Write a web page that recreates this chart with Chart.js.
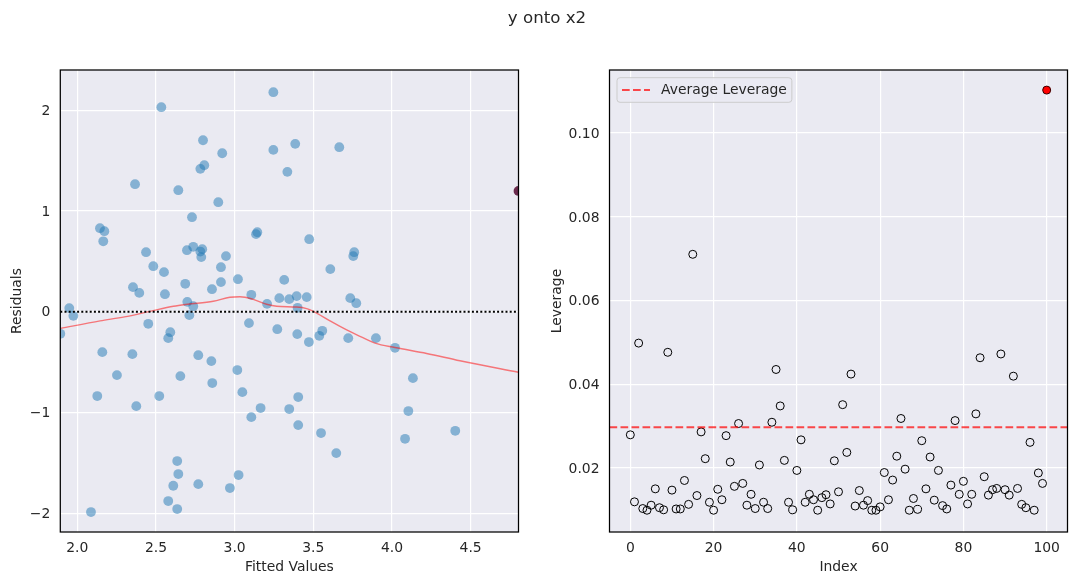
<!DOCTYPE html>
<html><head><meta charset="utf-8">
<script src="https://cdn.jsdelivr.net/npm/chart.js@4.4.1/dist/chart.umd.min.js"></script>
<style>
html,body{margin:0;padding:0;background:#fff;width:1077px;height:585px;overflow:hidden;}
#wrap{position:relative;width:1077px;height:585px;}
#title{position:absolute;left:447px;top:7.5px;width:200px;text-align:center;font-family:"DejaVu Sans",sans-serif;font-size:16.67px;line-height:20px;color:#262626;z-index:2;}
canvas{position:absolute;top:0;}
#c1{left:0;}
#c2{left:540px;}
</style></head><body>
<div id="wrap">
<canvas id="c1" width="540" height="585"></canvas>
<canvas id="c2" width="537" height="585"></canvas>
<div id="title">y onto x2</div>
</div>
<script>
// ---------------- data ----------------
const fitted = [1.949,1.975,2.534,3.246,2.799,2.921,3.246,2.807,2.782,2.367,
  2.642,2.896,2.729,2.144,2.172,2.165,3.136,3.144,2.437,2.697,
  2.737,2.782,2.794,2.788,2.945,2.483,2.913,2.551,2.913,2.686,
  3.021,2.354,2.394,2.557,2.856,3.106,2.699,2.737,3.206,3.385,
  3.665,3.335,3.474,3.760,3.754,3.608,3.315,3.284,3.347,3.394,
  3.458,3.735,3.773,3.400,2.712,3.091,3.271,3.398,3.472,3.538,
  3.557,3.722,3.898,1.892,2.451,2.591,2.578,2.159,2.350,2.769,
  2.852,2.252,2.655,2.858,3.017,3.049,2.127,2.521,2.375,3.165,
  3.106,2.635,2.642,3.025,2.610,2.769,2.970,2.578,2.635,2.087,
  4.019,4.133,3.347,3.404,3.404,3.549,3.646,4.104,4.083,4.402];
const residuals = [0.037,-0.040,2.031,2.180,1.703,1.574,1.607,1.455,1.419,1.267,
  1.207,1.088,0.939,0.830,0.800,0.700,0.771,0.790,0.592,0.612,
  0.645,0.598,0.622,0.543,0.553,0.453,0.443,0.394,0.295,0.278,
  0.324,0.245,0.188,0.175,0.225,0.169,0.099,0.056,0.079,1.667,
  1.634,1.389,0.721,0.592,0.553,0.424,0.317,0.136,0.126,0.156,
  0.146,0.136,0.086,0.040,-0.033,-0.112,-0.172,-0.221,-0.300,-0.238,
  -0.188,-0.261,-0.261,-0.218,-0.119,-0.202,-0.261,-0.400,-0.420,-0.430,
  -0.489,-0.628,-0.638,-0.707,-0.578,-0.797,-0.836,-0.836,-0.936,-0.955,
  -1.045,-1.481,-1.610,-1.620,-1.726,-1.710,-1.749,-1.878,-1.957,-1.987,
  -0.357,-0.658,-0.965,-0.846,-1.124,-1.203,-1.402,-0.985,-1.260,-1.181];
const outlierFitted = [4.804];
const outlierResidual = [1.20];
const lowessFitted = [1.892,2.145,2.30,2.462,2.611,2.70,2.864,2.97,3.034,3.118,3.203,3.267,3.394,3.458,3.50,3.606,3.712,3.80,3.892,4.019,4.22,4.432,4.804];
const lowessResidual = [-0.165,-0.09,-0.05,0.005,0.055,0.075,0.105,0.145,0.150,0.124,0.075,0.055,0.048,0.032,0.005,-0.09,-0.18,-0.245,-0.31,-0.354,-0.413,-0.486,-0.60];
const zeroResidual = 0;

const leverage = [0.0279,0.0119,0.0498,0.0103,0.0099,0.0111,0.0150,0.0105,0.0100,0.0476,
  0.0147,0.0102,0.0102,0.0170,0.0113,0.0710,0.0134,0.0286,0.0222,0.0118,
  0.0099,0.0149,0.0124,0.0277,0.0214,0.0156,0.0306,0.0163,0.0111,0.0137,
  0.0103,0.0207,0.0118,0.0103,0.0309,0.0435,0.0348,0.0218,0.0118,0.0100,
  0.0194,0.0267,0.0118,0.0137,0.0124,0.0099,0.0129,0.0136,0.0114,0.0217,
  0.0143,0.0351,0.0237,0.0424,0.0109,0.0146,0.0111,0.0122,0.0099,0.0099,
  0.0107,0.0189,0.0124,0.0171,0.0228,0.0318,0.0197,0.0099,0.0127,0.0101,
  0.0265,0.0150,0.0226,0.0123,0.0194,0.0110,0.0102,0.0159,0.0313,0.0137,
  0.0168,0.0114,0.0137,0.0329,0.0463,0.0179,0.0135,0.0148,0.0151,0.0472,
  0.0148,0.0135,0.0419,0.0151,0.0113,0.0105,0.0261,0.0099,0.0188,0.0163,
  0.1102];
const highlightIndex = [100];
const averageLeverage = 0.0297;

const fittedTicks = [2.0,2.5,3.0,3.5,4.0,4.5];
const residualTicks = [-2,-1,0,1,2];
const indexTicks = [0,20,40,60,80,100];
const leverageTicks = [0.02,0.04,0.06,0.08,0.10];

const fittedRange = [1.892, 4.804];
const residualRange = [-2.185, 2.40];
const indexRange = [-5, 105];
const leverageRange = [0.0047, 0.1150];

// ---------------- styling ----------------
const FONT = '"DejaVu Sans", sans-serif';
const INK = '#262626';
const AXES_BG = '#eaeaf2';
const TICK_SIZE = 13.9;
const LABEL_SIZE = 13.9;

const framePlugin = {
  id: 'frame',
  beforeDraw(chart) {
    const {ctx, chartArea: a} = chart;
    ctx.save();
    ctx.fillStyle = AXES_BG;
    ctx.fillRect(a.left, a.top, a.right - a.left, a.bottom - a.top);
    ctx.restore();
  },
  afterDraw(chart) {
    const {ctx, chartArea: a} = chart;
    ctx.save();
    ctx.strokeStyle = '#000';
    ctx.lineWidth = 1.25;
    ctx.strokeRect(a.left, a.top, a.right - a.left, a.bottom - a.top);
    ctx.restore();
  }
};

const legendPlugin = {
  id: 'innerLegend',
  afterDatasetsDraw(chart) {
    const ds = chart.data.datasets.find(d => d.inLegend);
    if (!ds) return;
    const {ctx, chartArea: a} = chart;
    ctx.save();
    ctx.font = LABEL_SIZE + 'px ' + FONT;
    const tw = ctx.measureText(ds.label).width;
    const x = a.left + 7.5, y = a.top + 7.7, h = 24.6;
    const w = 5 + 28 + 11 + tw + 5;
    ctx.beginPath();
    ctx.roundRect(x, y, w, h, 3);
    ctx.fillStyle = 'rgba(234,234,242,0.8)';
    ctx.fill();
    ctx.strokeStyle = '#cccccc';
    ctx.lineWidth = 1;
    ctx.stroke();
    ctx.beginPath();
    ctx.setLineDash(ds.borderDash);
    ctx.strokeStyle = ds.borderColor;
    ctx.lineWidth = ds.borderWidth;
    ctx.moveTo(x + 5, y + h / 2);
    ctx.lineTo(x + 33, y + h / 2);
    ctx.stroke();
    ctx.setLineDash([]);
    ctx.fillStyle = INK;
    ctx.textBaseline = 'middle';
    ctx.textAlign = 'left';
    ctx.fillText(ds.label, x + 44, y + h / 2 + 0.5);
    ctx.restore();
  }
};

function axis(range, ticks, fmt, title, fitFn, isX, labelOffset) {
  return {
    type: 'linear',
    min: range[0], max: range[1],
    afterBuildTicks: s => { s.ticks = ticks.map(v => ({value: v})); },
    afterFit: fitFn,
    grid: {color: '#ffffff', lineWidth: 1.2, drawTicks: false},
    border: {display: false},
    ticks: {padding: isX ? 8 : 10, labelOffset: labelOffset || 0, color: INK, font: {family: FONT, size: TICK_SIZE},
            callback: v => fmt(v), autoSkip: false, maxRotation: 0},
    title: {display: true, text: title, color: INK, font: {family: FONT, size: LABEL_SIZE},
            padding: isX ? {top: 0, bottom: 9} : {top: 9, bottom: 0}}
  };
}
const minus = v => (v < 0 ? '\u2212' + Math.abs(v) : String(v));

// ---------------- left chart ----------------
new Chart(document.getElementById('c1'), {
  type: 'scatter',
  data: {
    datasets: [
      {
        label: 'outlier',
        data: outlierFitted.map((f, i) => ({x: f, y: outlierResidual[i]})),
        backgroundColor: '#6b2b4e', borderWidth: 0, pointRadius: 4.9, clip: 0, order: 0
      },
      {
        label: 'zero',
        type: 'line',
        data: [{x: fittedRange[0], y: zeroResidual}, {x: fittedRange[1], y: zeroResidual}],
        borderColor: '#000', borderWidth: 2, borderDash: [2, 2.2], pointRadius: 0, clip: 0, order: 1
      },
      {
        label: 'lowess',
        type: 'line',
        data: lowessFitted.map((f, i) => ({x: f, y: lowessResidual[i]})),
        borderColor: 'rgba(255,0,0,0.5)', borderWidth: 1.4, pointRadius: 0,
        cubicInterpolationMode: 'monotone', clip: 0, order: 2
      },
      {
        label: 'residuals',
        data: fitted.map((f, i) => ({x: f, y: residuals[i]})),
        backgroundColor: 'rgba(31,119,180,0.5)', borderWidth: 0, pointRadius: 4.9, clip: 0, order: 3
      }
    ]
  },
  options: {
    responsive: false, animation: false, devicePixelRatio: 1, events: [],
    layout: {padding: {top: 70, right: 21.5, bottom: 0, left: 0}},
    plugins: {legend: {display: false}, tooltip: {enabled: false}},
    scales: {
      x: axis(fittedRange, fittedTicks, v => v.toFixed(1), 'Fitted Values', s => { s.height = 53; }, true, 0),
      y: axis(residualRange, residualTicks, minus, 'Residuals', s => { s.width = 60.3; }, false, 1)
    }
  },
  plugins: [framePlugin]
});

// ---------------- right chart ----------------
const normalPts = leverage.map((v, i) => ({x: i, y: v})).filter(p => !highlightIndex.includes(p.x));
const highPts = highlightIndex.map(i => ({x: i, y: leverage[i]}));
new Chart(document.getElementById('c2'), {
  type: 'scatter',
  data: {
    datasets: [
      {
        label: 'high',
        data: highPts,
        backgroundColor: '#ff0000', borderColor: '#3a0000', borderWidth: 1, pointRadius: 4, order: 0
      },
      {
        label: 'Average Leverage',
        inLegend: true,
        type: 'line',
        data: [{x: indexRange[0], y: averageLeverage}, {x: indexRange[1], y: averageLeverage}],
        borderColor: 'rgba(255,0,0,0.7)', borderWidth: 2, borderDash: [7.7, 3.3], pointRadius: 0, clip: 0, order: 1
      },
      {
        label: 'leverage',
        data: normalPts,
        backgroundColor: 'rgba(0,0,0,0)', borderColor: '#000', borderWidth: 1, pointRadius: 4, order: 2
      }
    ]
  },
  options: {
    responsive: false, animation: false, devicePixelRatio: 1, events: [],
    layout: {padding: {top: 70, right: 9.5, bottom: 0, left: 0}},
    plugins: {legend: {display: false}, tooltip: {enabled: false}},
    scales: {
      x: axis(indexRange, indexTicks, v => String(v), 'Index', s => { s.height = 53; }, true, 0),
      y: axis(leverageRange, leverageTicks, v => v.toFixed(2), 'Leverage', s => { s.width = 69.5; }, false, 1.5)
    }
  },
  plugins: [framePlugin, legendPlugin]
});
</script>
</body></html>
